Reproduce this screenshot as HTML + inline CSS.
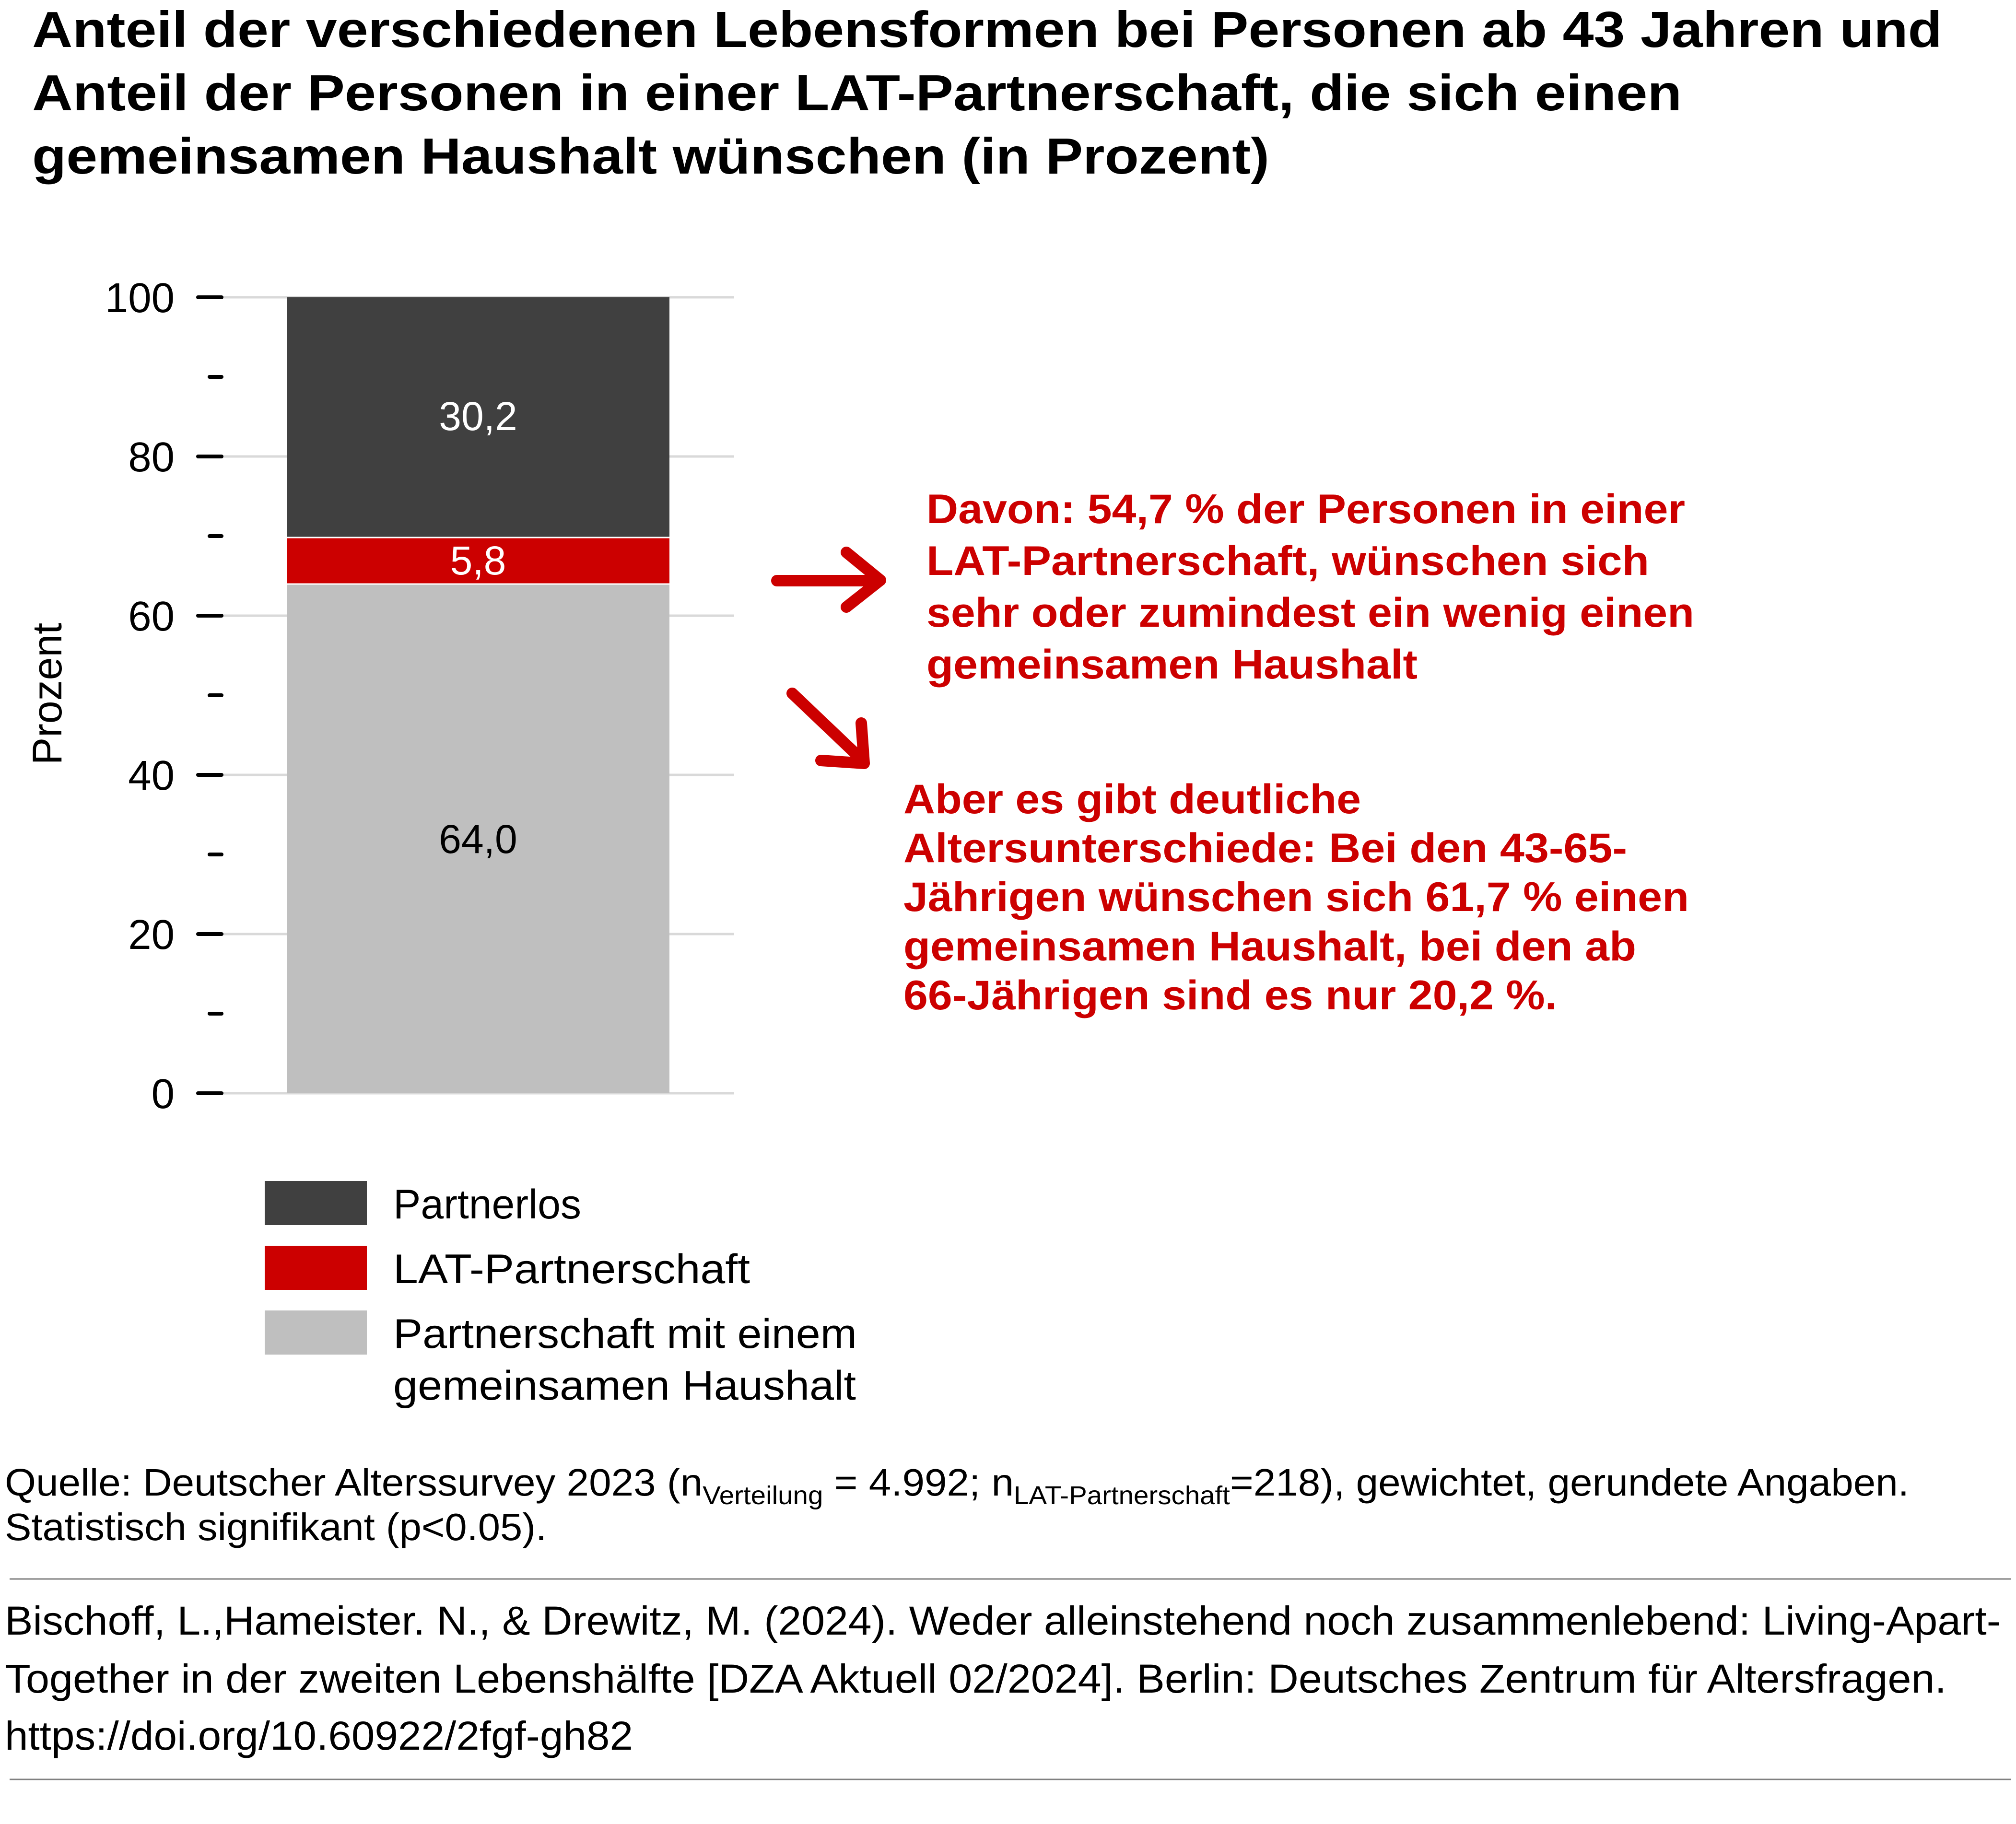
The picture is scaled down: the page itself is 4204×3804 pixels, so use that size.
<!DOCTYPE html>
<html><head><meta charset="utf-8"><style>html,body{margin:0;padding:0;background:#fff}svg{display:block}</style></head>
<body>
<svg width="4204" height="3804" viewBox="0 0 4204 3804" xmlns="http://www.w3.org/2000/svg" font-family="'Liberation Sans', Arial, sans-serif">
<rect width="4204" height="3804" fill="#fff"/>
<g font-weight="bold" font-size="106" fill="#000">
<text x="67" y="98" textLength="3983" lengthAdjust="spacingAndGlyphs">Anteil der verschiedenen Lebensformen bei Personen ab 43 Jahren und</text>
<text x="67" y="230" textLength="3440" lengthAdjust="spacingAndGlyphs">Anteil der Personen in einer LAT-Partnerschaft, die sich einen</text>
<text x="67" y="362" textLength="2580" lengthAdjust="spacingAndGlyphs">gemeinsamen Haushalt wünschen (in Prozent)</text>
</g>
<g stroke="#d9d9d9" stroke-width="5">
<line x1="464" y1="620" x2="1531" y2="620"/><line x1="464" y1="952" x2="1531" y2="952"/>
<line x1="464" y1="1284" x2="1531" y2="1284"/><line x1="464" y1="1616" x2="1531" y2="1616"/>
<line x1="464" y1="1948" x2="1531" y2="1948"/><line x1="464" y1="2280" x2="1531" y2="2280"/>
</g>
<g stroke="#000" stroke-width="8" stroke-linecap="round">
<line x1="413" y1="620" x2="462" y2="620"/><line x1="413" y1="952" x2="462" y2="952"/>
<line x1="413" y1="1284" x2="462" y2="1284"/><line x1="413" y1="1616" x2="462" y2="1616"/>
<line x1="413" y1="1948" x2="462" y2="1948"/><line x1="413" y1="2280" x2="462" y2="2280"/>
<line x1="437" y1="786" x2="462" y2="786"/><line x1="437" y1="1118" x2="462" y2="1118"/>
<line x1="437" y1="1450" x2="462" y2="1450"/><line x1="437" y1="1782" x2="462" y2="1782"/>
<line x1="437" y1="2114" x2="462" y2="2114"/>
</g>
<g font-size="87" fill="#000" text-anchor="end">
<text x="364" y="651">100</text><text x="364" y="983">80</text><text x="364" y="1315">60</text>
<text x="364" y="1647">40</text><text x="364" y="1979">20</text><text x="364" y="2311">0</text>
</g>
<text transform="translate(128,1447) rotate(-90)" font-size="86" text-anchor="middle">Prozent</text>
<rect x="598" y="1218" width="798" height="1062" fill="#bfbfbf"/>
<rect x="598" y="1121" width="798" height="97" fill="#cc0000"/>
<rect x="598" y="620" width="798" height="501" fill="#404040"/>
<line x1="598" y1="1121" x2="1396" y2="1121" stroke="#fff" stroke-width="3"/>
<line x1="598" y1="1218" x2="1396" y2="1218" stroke="#fff" stroke-width="3"/>
<g font-size="84" text-anchor="middle">
<text x="997" y="897" fill="#fff">30,2</text>
<text x="997" y="1198" fill="#fff">5,8</text>
<text x="997" y="1779" fill="#000">64,0</text>
</g>
<g stroke="#cc0000" stroke-width="24" stroke-linecap="round" stroke-linejoin="round" fill="none">
<line x1="1620" y1="1211" x2="1834" y2="1211"/>
<polyline points="1765,1152 1836,1210 1765,1266"/>
<line x1="1652" y1="1446" x2="1795" y2="1582"/>
<polyline points="1796,1508 1802,1592 1712,1586"/>
</g>
<g font-weight="bold" font-size="86" fill="#cc0000">
<text x="1932" y="1091" textLength="1582" lengthAdjust="spacingAndGlyphs">Davon: 54,7 % der Personen in einer</text>
<text x="1932" y="1199" textLength="1507" lengthAdjust="spacingAndGlyphs">LAT-Partnerschaft, wünschen sich</text>
<text x="1932" y="1307" textLength="1601" lengthAdjust="spacingAndGlyphs">sehr oder zumindest ein wenig einen</text>
<text x="1932" y="1415" textLength="1024" lengthAdjust="spacingAndGlyphs">gemeinsamen Haushalt</text>
<text x="1884" y="1696" textLength="954" lengthAdjust="spacingAndGlyphs">Aber es gibt deutliche</text>
<text x="1884" y="1798" textLength="1509" lengthAdjust="spacingAndGlyphs">Altersunterschiede: Bei den 43-65-</text>
<text x="1884" y="1900" textLength="1638" lengthAdjust="spacingAndGlyphs">Jährigen wünschen sich 61,7 % einen</text>
<text x="1884" y="2003" textLength="1528" lengthAdjust="spacingAndGlyphs">gemeinsamen Haushalt, bei den ab</text>
<text x="1884" y="2105" textLength="1363" lengthAdjust="spacingAndGlyphs">66-Jährigen sind es nur 20,2 %.</text>
</g>
<rect x="552" y="2463" width="213" height="92" fill="#404040"/>
<rect x="552" y="2598" width="213" height="92" fill="#cc0000"/>
<rect x="552" y="2733" width="213" height="92" fill="#bfbfbf"/>
<g font-size="86" fill="#000">
<text x="820" y="2541">Partnerlos</text>
<text x="820" y="2676" textLength="744" lengthAdjust="spacingAndGlyphs">LAT-Partnerschaft</text>
<text x="820" y="2811" textLength="967" lengthAdjust="spacingAndGlyphs">Partnerschaft mit einem</text>
<text x="820" y="2919" textLength="965" lengthAdjust="spacingAndGlyphs">gemeinsamen Haushalt</text>
</g>
<g font-size="80" fill="#000">
<text x="10" y="3119" textLength="3971" lengthAdjust="spacingAndGlyphs">Quelle: Deutscher Alterssurvey 2023 (n<tspan font-size="54" dy="18">Verteilung</tspan><tspan dy="-18"> = 4.992; n</tspan><tspan font-size="54" dy="18">LAT-Partnerschaft</tspan><tspan dy="-18">=218), gewichtet, gerundete Angaben.</tspan></text>
<text x="10" y="3212" textLength="1130" lengthAdjust="spacingAndGlyphs">Statistisch signifikant (p&lt;0.05).</text>
</g>
<line x1="20" y1="3293" x2="4194" y2="3293" stroke="#808080" stroke-width="3"/>
<g font-size="84" fill="#000">
<text x="10" y="3409" textLength="4162" lengthAdjust="spacingAndGlyphs">Bischoff, L.,Hameister. N., &amp; Drewitz, M. (2024). Weder alleinstehend noch zusammenlebend: Living-Apart-</text>
<text x="10" y="3530" textLength="4049" lengthAdjust="spacingAndGlyphs">Together in der zweiten Lebenshälfte [DZA Aktuell 02/2024]. Berlin: Deutsches Zentrum für Altersfragen.</text>
<text x="10" y="3649" textLength="1310" lengthAdjust="spacingAndGlyphs">https://doi.org/10.60922/2fgf-gh82</text>
</g>
<line x1="20" y1="3711" x2="4194" y2="3711" stroke="#808080" stroke-width="3"/>
</svg>
</body></html>
